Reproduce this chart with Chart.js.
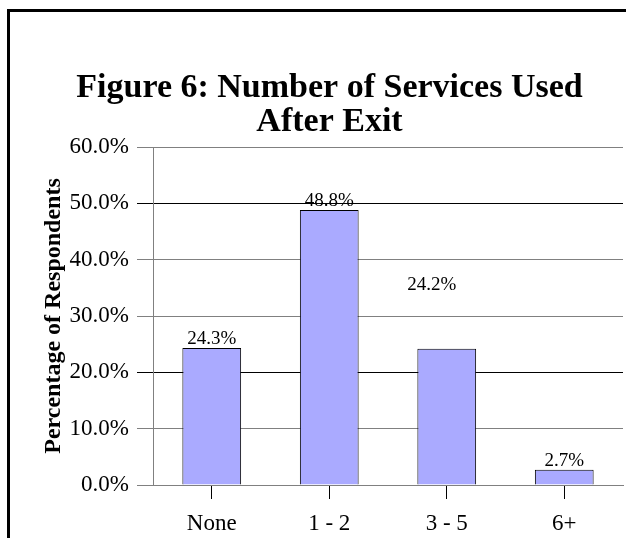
<!DOCTYPE html>
<html>
<head>
<meta charset="utf-8">
<script src="https://cdn.jsdelivr.net/npm/chart.js@4"></script>
<style>
    body { margin: 0; background: #fff; }
    #wrap { width: 626px; height: 538px; }
</style>
</head>
<body>
<div id="wrap"><canvas id="chart" width="626" height="538"></canvas></div>
<script>
const categories = ['None', '1 - 2', '3 - 5', '6+'];
const shares = [24.3, 48.8, 24.2, 2.7];
const yTicks = [0, 10, 20, 30, 40, 50, 60];

const SERIF = '"Liberation Serif", "Times New Roman", serif';
// the 3 - 5 label sits off its bar in the original
const labelShift = [null, null, { dx: -15, dy: -55 }, null];

const framePlugin = {
    id: 'frame',
    beforeDraw(chart) {
        const ctx = chart.ctx;
        ctx.save();
        ctx.fillStyle = '#fff';
        ctx.fillRect(0, 0, chart.width, chart.height);
        ctx.fillStyle = '#000';
        ctx.fillRect(7, 9, chart.width - 7, 3);
        ctx.fillRect(7, 9, 3, chart.height - 9);
        ctx.restore();
    }
};

const valueLabels = {
    id: 'valueLabels',
    afterDatasetsDraw(chart) {
        const ctx = chart.ctx;
        const meta = chart.getDatasetMeta(0);
        ctx.save();
        ctx.font = '19px ' + SERIF;
        ctx.fillStyle = '#000';
        ctx.textAlign = 'center';
        ctx.textBaseline = 'alphabetic';
        meta.data.forEach((bar, i) => {
            const s = labelShift[i] || { dx: 0, dy: 0 };
            ctx.fillText(shares[i].toFixed(1) + '%', bar.x + s.dx, bar.y - 4 + s.dy);
        });
        ctx.restore();
    }
};

new Chart(document.getElementById('chart'), {
    type: 'bar',
    data: {
        labels: categories,
        datasets: [{
            data: shares,
            backgroundColor: '#AAAAFF',
            borderColor: '#000',
            borderWidth: 1,
            barPercentage: 0.5,
            categoryPercentage: 1.0,
        }],
    },
    options: {
        responsive: false,
        animation: false,
        layout: { padding: { left: 36, right: 3, top: 0, bottom: 0 } },
        plugins: {
            legend: { display: false },
            tooltip: { enabled: false },
            title: {
                display: true,
                text: ['Figure 6: Number of Services Used', 'After Exit'],
                color: '#000',
                font: { family: SERIF, size: 34, weight: 'bold', lineHeight: 1.0 },
                padding: { top: 71, bottom: 8 },
            },
        },
        scales: {
            x: {
                grid: {
                    offset: false,
                    drawOnChartArea: false,
                    drawTicks: true,
                    tickLength: 14,
                    color: '#000',
                },
                border: { display: true, color: '#808080' },
                ticks: {
                    color: '#000',
                    padding: 11,
                    font: { family: SERIF, size: 23 },
                },
                afterFit(scale) { scale.height = 53; },
            },
            y: {
                min: 0,
                max: 60,
                afterBuildTicks(scale) { scale.ticks = yTicks.map(v => ({ value: v })); },
                grid: {
                    color: (c) => (c.tick && (c.tick.value === 50 || c.tick.value === 20)) ? '#000' : '#808080',
                    tickLength: 16,
                },
                border: { display: true, color: '#808080' },
                ticks: {
                    color: '#000',
                    padding: 8,
                    font: { family: SERIF, size: 23 },
                    callback: (v) => v.toFixed(1) + '%',
                },
                title: {
                    display: true,
                    text: 'Percentage of Respondents',
                    color: '#000',
                    font: { family: SERIF, size: 24, weight: 'bold' },
                    padding: { top: 3, bottom: 0 },
                },
                afterFit(scale) { scale.width = 117; },
            },
        },
    },
    plugins: [framePlugin, valueLabels],
});
</script>
</body>
</html>
